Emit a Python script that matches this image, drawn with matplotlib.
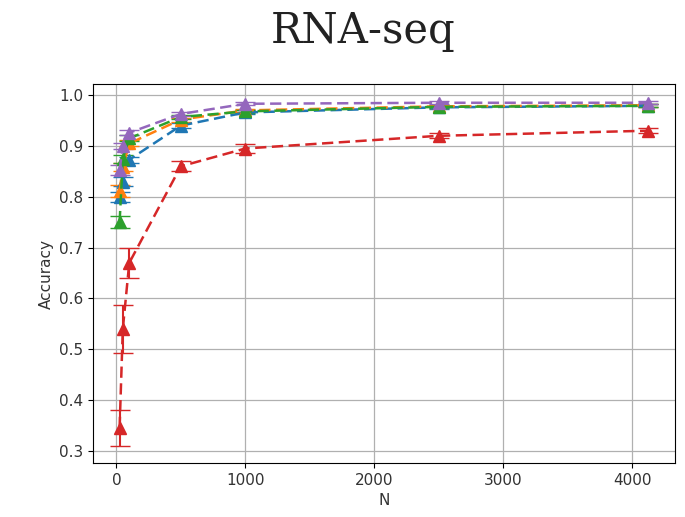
import matplotlib
matplotlib.use("Agg")
import matplotlib.pyplot as plt
import numpy as np

N = [25, 50, 100, 500, 1000, 2500, 4125]

acc_blue = [0.800, 0.830, 0.873, 0.940, 0.966, 0.976, 0.979]
err_blue = [0.010, 0.008, 0.006, 0.005, 0.004, 0.003, 0.003]
acc_orange = [0.812, 0.858, 0.905, 0.952, 0.970, 0.978, 0.980]
err_orange = [0.012, 0.008, 0.006, 0.004, 0.003, 0.003, 0.003]
acc_green = [0.750, 0.875, 0.915, 0.957, 0.968, 0.977, 0.979]
err_green = [0.012, 0.008, 0.006, 0.004, 0.003, 0.003, 0.003]
acc_red = [0.345, 0.540, 0.670, 0.860, 0.895, 0.920, 0.930]
err_red = [0.035, 0.048, 0.030, 0.010, 0.008, 0.005, 0.005]
acc_purple = [0.852, 0.900, 0.926, 0.963, 0.983, 0.985, 0.985]
err_purple = [0.010, 0.006, 0.005, 0.004, 0.003, 0.003, 0.003]

series = [
    (acc_blue, err_blue, "C0"),
    (acc_orange, err_orange, "C1"),
    (acc_green, err_green, "C2"),
    (acc_red, err_red, "C3"),
    (acc_purple, err_purple, "C4"),
]

fig = plt.figure(figsize=(6.85, 5.17), dpi=100)
ax = fig.add_axes([0.136, 0.1044, 0.849, 0.7331])

for acc, err, c in series:
    ax.errorbar(N, acc, yerr=err, color=c, linestyle="--", linewidth=1.8,
                marker="^", markersize=8.5, capsize=7, elinewidth=1.5,
                dashes=(4.5, 2.2))

ax.set_xticks([0, 1000, 2000, 3000, 4000])
ax.set_yticks([0.3, 0.4, 0.5, 0.6, 0.7, 0.8, 0.9, 1.0])
ax.grid(True, color="#b0b0b0", linewidth=0.9)
ax.set_axisbelow(True)
ax.tick_params(labelsize=11, labelcolor="#333333")
ax.set_xlabel("N", fontsize=11, color="#333333")
ax.set_ylabel("Accuracy", fontsize=11, color="#333333")

fig.text(0.53, 0.94, "RNA-seq", ha="center", va="center",
         fontsize=30, family="DejaVu Serif", color="#222222")

fig.savefig("out.png", dpi=100)
